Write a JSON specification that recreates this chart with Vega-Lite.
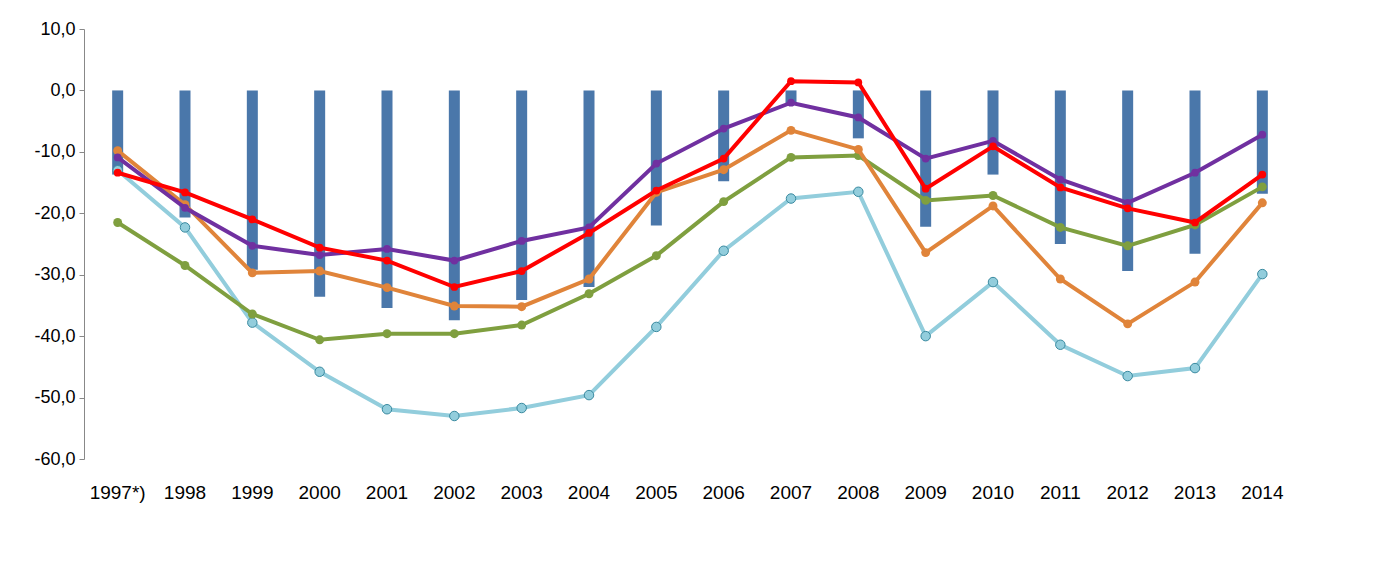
{
"$schema":"https://vega.github.io/schema/vega-lite/v6.json",
"width":1212,"height":430,
"autosize":{"type":"none"},
"padding":{"left":84,"top":29,"right":79,"bottom":123},
"background":"white",
"config":{"view":{"stroke":null},"locale":{"number":{"decimal":",","thousands":".","grouping":[3],"currency":["",""],"minus":"-"}},"font":"Liberation Sans"},
"data":{"values":[
{"y":"1997*)","bar":-13.7,"lb":-13,"gr":-21.5,"or":-9.8,"pu":-10.9,"re":-13.4},
{"y":"1998","bar":-20.7,"lb":-22.3,"gr":-28.5,"or":-18.6,"pu":-19.1,"re":-16.6},
{"y":"1999","bar":-29.2,"lb":-37.8,"gr":-36.4,"or":-29.7,"pu":-25.3,"re":-21},
{"y":"2000","bar":-33.6,"lb":-45.8,"gr":-40.6,"or":-29.4,"pu":-26.8,"re":-25.6},
{"y":"2001","bar":-35.4,"lb":-51.9,"gr":-39.6,"or":-32.1,"pu":-25.8,"re":-27.7},
{"y":"2002","bar":-37.4,"lb":-53,"gr":-39.6,"or":-35.1,"pu":-27.7,"re":-32},
{"y":"2003","bar":-34.1,"lb":-51.7,"gr":-38.2,"or":-35.2,"pu":-24.5,"re":-29.4},
{"y":"2004","bar":-32,"lb":-49.6,"gr":-33.1,"or":-30.7,"pu":-22.3,"re":-23.2},
{"y":"2005","bar":-22,"lb":-38.5,"gr":-26.9,"or":-16.6,"pu":-11.9,"re":-16.3},
{"y":"2006","bar":-14.8,"lb":-26.1,"gr":-18.1,"or":-12.9,"pu":-6.2,"re":-11.1},
{"y":"2007","bar":-2.3,"lb":-17.6,"gr":-10.9,"or":-6.5,"pu":-2,"re":1.5},
{"y":"2008","bar":-7.8,"lb":-16.5,"gr":-10.6,"or":-9.6,"pu":-4.4,"re":1.3},
{"y":"2009","bar":-22.2,"lb":-40,"gr":-17.9,"or":-26.4,"pu":-11.1,"re":-16},
{"y":"2010","bar":-13.7,"lb":-31.2,"gr":-17.1,"or":-18.8,"pu":-8.2,"re":-9.1},
{"y":"2011","bar":-25,"lb":-41.4,"gr":-22.3,"or":-30.7,"pu":-14.5,"re":-15.8},
{"y":"2012","bar":-29.4,"lb":-46.5,"gr":-25.3,"or":-38,"pu":-18.3,"re":-19.2},
{"y":"2013","bar":-26.6,"lb":-45.2,"gr":-21.9,"or":-31.2,"pu":-13.4,"re":-21.5},
{"y":"2014","bar":-16.8,"lb":-29.9,"gr":-15.7,"or":-18.3,"pu":-7.2,"re":-13.7}
]},
"encoding":{"x":{"field":"y","type":"nominal","sort":null,"scale":{"paddingInner":0.2,"paddingOuter":0.1},"axis":{"title":null,"labelAngle":0,"domain":false,"ticks":false,"labelPadding":24,"labelFontSize":19,"labelColor":"#000"}}},
"layer":[
{"mark":{"type":"bar","size":11,"color":"#4a77aa"},"encoding":{"y":{"field":"bar","type":"quantitative","scale":{"domain":[-60,10]},"axis":{"title":null,"values":[10,0,-10,-20,-30,-40,-50,-60],"format":".1f","grid":false,"domainColor":"#888","tickColor":"#888","labelFontSize":18,"labelColor":"#000","labelPadding":4}}}},
{"mark":{"type":"rule","color":"#888"},"encoding":{"y":{"datum":0}}},
{"mark":{"type":"line","color":"#92cddc","strokeWidth":4,"point":{"filled":true,"fill":"#92cddc","stroke":"#3a8aa0","strokeWidth":1,"size":90}},"encoding":{"y":{"field":"lb","type":"quantitative"}}},
{"mark":{"type":"line","color":"#7f9f3f","strokeWidth":4,"point":{"filled":true,"fill":"#7f9f3f","size":80}},"encoding":{"y":{"field":"gr","type":"quantitative"}}},
{"mark":{"type":"line","color":"#e0843a","strokeWidth":4,"point":{"filled":true,"fill":"#e0843a","size":80}},"encoding":{"y":{"field":"or","type":"quantitative"}}},
{"mark":{"type":"line","color":"#7030a0","strokeWidth":4,"point":{"filled":true,"fill":"#7030a0","size":60}},"encoding":{"y":{"field":"pu","type":"quantitative"}}},
{"mark":{"type":"line","color":"#ff0000","strokeWidth":4,"point":{"filled":true,"fill":"#ff0000","size":60}},"encoding":{"y":{"field":"re","type":"quantitative"}}}
]
}
